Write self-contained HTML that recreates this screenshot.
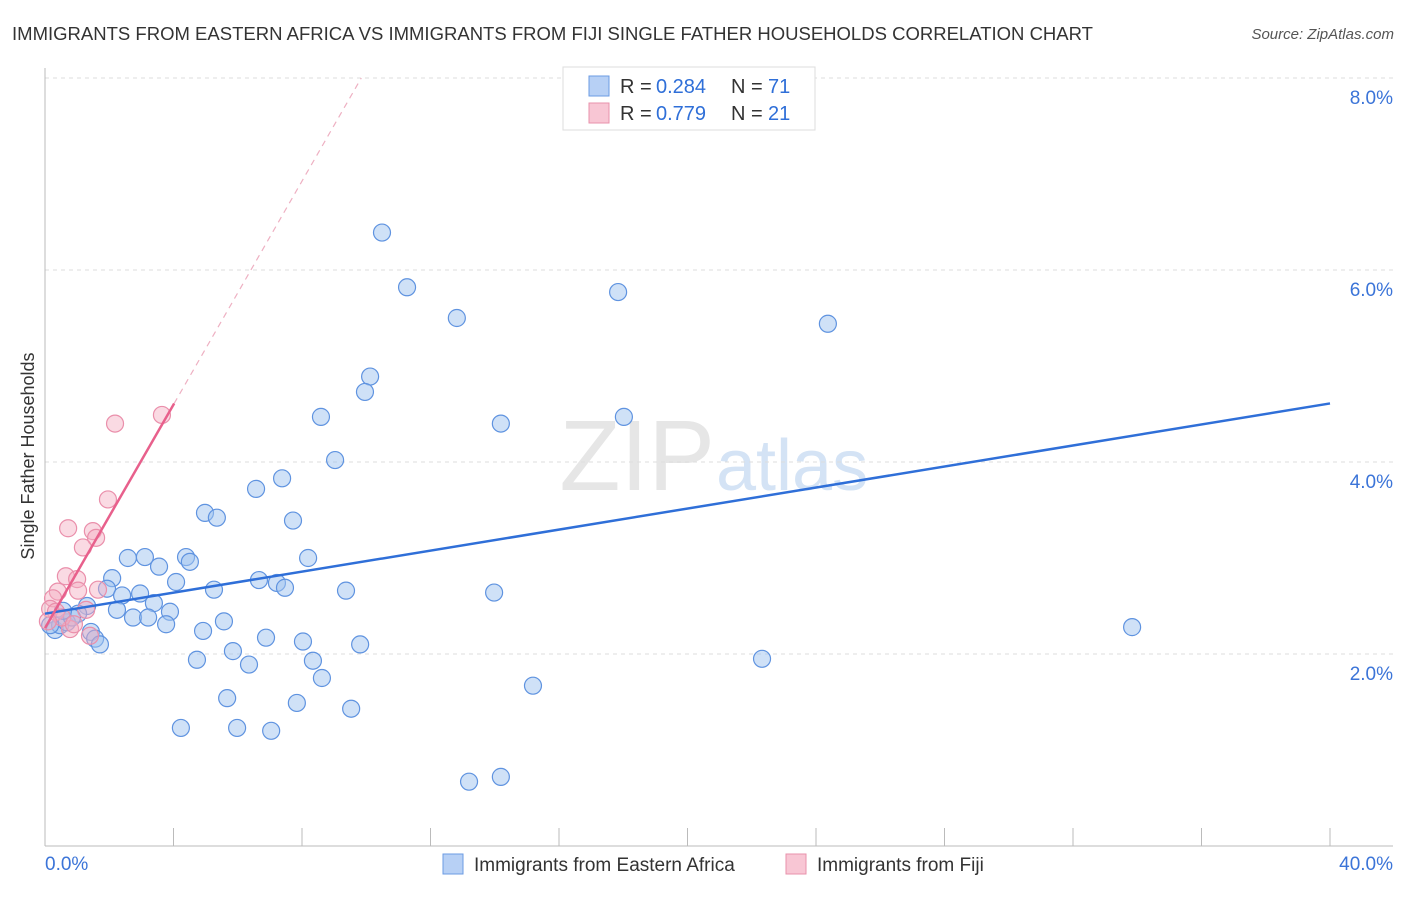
<!DOCTYPE html>
<html><head><meta charset="utf-8"><style>
body{margin:0;background:#fff;font-family:"Liberation Sans",sans-serif}
svg text{font-family:"Liberation Sans",sans-serif}
</style></head><body>
<svg id="chart" width="1406" height="892">
<text x="12" y="40" font-size="18" fill="#333" textLength="1081" lengthAdjust="spacingAndGlyphs">IMMIGRANTS FROM EASTERN AFRICA VS IMMIGRANTS FROM FIJI SINGLE FATHER HOUSEHOLDS CORRELATION CHART</text>
<text x="1394" y="39" font-size="15" fill="#555" font-style="italic" text-anchor="end">Source: ZipAtlas.com</text>
<text x="715" y="490" font-size="100" fill="#e6e6e6" text-anchor="end" font-family="Liberation Serif">ZIP</text>
<text x="716" y="490" font-size="72" fill="#d4e3f5">atlas</text>
<g id="grid"></g><g id="axes"></g><g id="marks"></g>
<text transform="translate(34,456) rotate(-90)" font-size="18" fill="#333" text-anchor="middle">Single Father Households</text>
<g>
<rect x="563" y="67" width="252" height="63" fill="#fff" stroke="#ddd"/>
<rect x="589" y="76" width="20" height="20" fill="#b7d0f5" stroke="#6b9be3"/>
<rect x="589" y="103" width="20" height="20" fill="#f8c6d4" stroke="#e892ab"/>
<g font-size="20">
<text x="620" y="93" fill="#333">R =</text><text x="656" y="93" fill="#2f6fd8">0.284</text>
<text x="731" y="93" fill="#333">N =</text><text x="768" y="93" fill="#2f6fd8">71</text></g>
<g font-size="20">
<text x="620" y="120" fill="#333">R =</text><text x="656" y="120" fill="#2f6fd8">0.779</text>
<text x="731" y="120" fill="#333">N =</text><text x="768" y="120" fill="#2f6fd8">21</text></g>
</g>
<g>
<rect x="443" y="854" width="20" height="20" fill="#b7d0f5" stroke="#6b9be3"/>
<text x="474" y="871" font-size="19" fill="#333">Immigrants from Eastern Africa</text>
<rect x="786" y="854" width="20" height="20" fill="#f8c6d4" stroke="#e892ab"/>
<text x="817" y="871" font-size="19" fill="#333">Immigrants from Fiji</text>
</g>
</svg>
<script>
const blueX=[10.49,11.27,17.84,12.82,24.37,10.12,9.96,8.59,14.19,18.02,9.03,6.57,7.38,4.98,5.35,7.72,2.58,3.11,4.39,4.51,3.55,8.19,2.09,4.08,6.66,7.22,7.47,5.26,9.37,13.98,1.93,2.40,2.96,3.39,1.31,2.24,2.74,3.21,3.89,3.77,5.57,1.03,4.92,6.88,8.03,9.81,1.43,1.56,1.71,5.85,4.73,6.35,8.34,8.62,5.67,7.84,9.53,15.19,22.32,33.84,4.23,5.98,7.04,13.20,14.19,0.31,0.47,0.68,0.16,0.84,0.56];
const blueY=[6.39,5.82,5.77,5.50,5.44,4.89,4.73,4.47,4.40,4.47,4.02,3.72,3.83,3.47,3.42,3.39,3.00,3.01,3.01,2.96,2.91,3.00,2.79,2.75,2.77,2.74,2.69,2.67,2.66,2.64,2.68,2.61,2.63,2.53,2.50,2.46,2.38,2.38,2.44,2.31,2.34,2.42,2.24,2.17,2.13,2.10,2.23,2.16,2.10,2.03,1.94,1.89,1.93,1.75,1.54,1.49,1.43,1.67,1.95,2.28,1.23,1.23,1.20,0.67,0.72,2.25,2.30,2.33,2.30,2.38,2.45];
const pinkX=[2.18,3.64,1.96,0.72,1.49,1.59,1.18,0.65,1.00,1.03,1.65,0.40,0.25,0.16,0.34,1.28,0.78,1.40,0.53,0.09,0.90];
const pinkY=[4.40,4.49,3.61,3.31,3.28,3.21,3.11,2.81,2.78,2.66,2.67,2.65,2.58,2.47,2.44,2.46,2.26,2.19,2.38,2.34,2.31];
const yTicks=[2,4,6,8];
const yTickLabels=["2.0%","4.0%","6.0%","8.0%"];
const xTicks=[0,4,8,12,16,20,24,28,32,36,40];
const blueTrend=[2.42,4.61];
const pinkTrend=[2.27,0.582];
const NS="http://www.w3.org/2000/svg";
const sx=v=>45+v*32.125, sy=v=>846-v*96;
function mk(t,a,p){const e=document.createElementNS(NS,t);for(const k in a)e.setAttribute(k,a[k]);p.appendChild(e);return e;}
const grid=document.getElementById('grid'),axes=document.getElementById('axes'),marks=document.getElementById('marks');
yTicks.forEach((v,i)=>{
 const l=mk('line',{x1:45,x2:1393,y1:sy(v),y2:sy(v),stroke:'#ddd','stroke-dasharray':'4,4'},grid);
 
 
 const t=mk('text',{x:1393,y:sy(v)+26,'font-size':19,fill:'#3b74d8','text-anchor':'end'},axes);
 t.textContent=yTickLabels[i];
 
 
});
mk('line',{x1:45,x2:45,y1:68,y2:846,stroke:'#bbb'},axes);
mk('line',{x1:45,x2:1393,y1:846,y2:846,stroke:'#bbb'},axes);
xTicks.forEach(v=>{const l=mk('line',{x1:sx(v),x2:sx(v),y1:828,y2:846,stroke:'#bbb'},axes);
 
 });
let t0=mk('text',{x:45,y:870,'font-size':19,fill:'#3b74d8'},axes);t0.textContent='0.0%';


let t1=mk('text',{x:1393,y:870,'font-size':19,fill:'#3b74d8','text-anchor':'end'},axes);t1.textContent='40.0%';


blueX.forEach((x,i)=>{const c=mk('circle',{cx:sx(x),cy:sy(blueY[i]),r:8.5,fill:'rgba(160,196,240,0.5)',stroke:'#5f93e0','stroke-width':1.2},marks);
 
 });
pinkX.forEach((x,i)=>{const c=mk('circle',{cx:sx(x),cy:sy(pinkY[i]),r:8.5,fill:'rgba(244,172,194,0.45)',stroke:'#ea8fab','stroke-width':1.2},marks);
 
 });
let bl=mk('line',{x1:sx(0),y1:sy(blueTrend[0]),x2:sx(40),y2:sy(blueTrend[1]),stroke:'#2f6fd8','stroke-width':2.5},marks);


const pxEnd=(8.0-pinkTrend[0])/pinkTrend[1];
let pd=mk('line',{x1:sx(4.02),y1:sy(pinkTrend[0]+pinkTrend[1]*4.02),x2:sx(pxEnd),y2:sy(8.0),stroke:'#eeb0c2','stroke-width':1.2,'stroke-dasharray':'6,5'},marks);


let pl=mk('line',{x1:sx(0),y1:sy(pinkTrend[0]),x2:sx(4.02),y2:sy(pinkTrend[0]+pinkTrend[1]*4.02),stroke:'#e8608c','stroke-width':2.5},marks);


</script>
</body></html>
